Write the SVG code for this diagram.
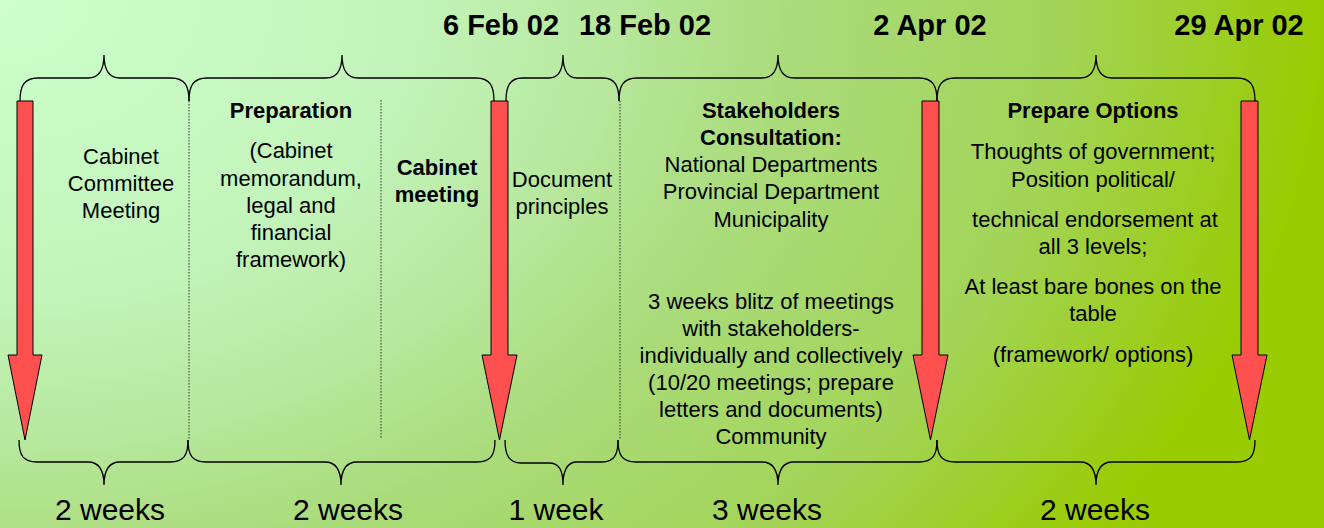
<svg xmlns="http://www.w3.org/2000/svg" width="1324" height="528" viewBox="0 0 1324 528">
<style>
text{font-family:"Liberation Sans",Arial,sans-serif;fill:#000;text-anchor:middle}
.t{font-size:22px}
.b{font-size:22px;font-weight:bold}
.d{font-size:29px;font-weight:bold}
.w{font-size:30px}
.brace{fill:none;stroke:#000;stroke-width:1.3}
.dot{stroke:#333;stroke-width:1;stroke-dasharray:1.5 1.5;fill:none}
.arrow{fill:#ff5050;stroke:#000;stroke-width:1}
</style>
<defs>
<radialGradient id="bg" gradientUnits="userSpaceOnUse" cx="0" cy="0" r="1324" fx="0" fy="0" gradientTransform="scale(1,0.72)">
<stop offset="0" stop-color="#ccffcc"/>
<stop offset="0.3" stop-color="#c3f4bb"/>
<stop offset="0.45" stop-color="#b8e9a0"/>
<stop offset="0.6" stop-color="#aadb7a"/>
<stop offset="0.8" stop-color="#a3d458"/>
<stop offset="0.95" stop-color="#9bcd16"/>
<stop offset="1" stop-color="#99cc00"/>
</radialGradient>
</defs>
<rect width="1324" height="528" fill="url(#bg)"/>

<g id="dates">
<text class="d" x="501" y="35">6 Feb 02</text>
<text class="d" x="645" y="35">18 Feb 02</text>
<text class="d" x="930" y="35">2 Apr 02</text>
<text class="d" x="1239" y="35">29 Apr 02</text>
</g>

<g id="connectors">
<!-- top braces -->
<path class="brace" d="M20,101 C20,86 24,78 38,78 L88,78 C99,78 104,70 104,55 C104,70 109,78 120,78 L171,78 C185,78 189,86 189,101"/>
<path class="brace" d="M189,101 C189,86 193,78 207,78 L326,78 C337,78 342,70 342,55 C342,70 347,78 358,78 L476,78 C490,78 494,86 494,101"/>
<path class="brace" d="M506,101 C506,86 510,78 522,78 L549,78 C559,78 563,70 563,55 C563,70 567,78 577,78 L603,78 C615,78 619,86 619,101"/>
<path class="brace" d="M619,101 C619,86 623,78 637,78 L762,78 C773,78 778,70 778,55 C778,70 783,78 794,78 L919,78 C933,78 937,86 937,101"/>
<path class="brace" d="M937,101 C937,86 941,78 955,78 L1080,78 C1091,78 1096,70 1096,55 C1096,70 1101,78 1112,78 L1237,78 C1251,78 1255,86 1255,101"/>
<!-- bottom braces -->
<path class="brace" d="M19,440 C19,455 23,462 37,462 L88,462 C99,462 104,470 104,485 C104,470 109,462 120,462 L170,462 C184,462 188,455 188,440"/>
<path class="brace" d="M188,440 C188,455 192,462 206,462 L325,462 C336,462 341,470 341,485 C341,470 346,462 357,462 L477,462 C491,462 495,455 495,440"/>
<path class="brace" d="M505,440 C505,455 509,463 521,463 L549,463 C559,463 563,470 563,485 C563,470 567,462 577,462 L602,462 C614,462 618,455 618,440"/>
<path class="brace" d="M618,440 C618,455 622,462 636,462 L762,462 C773,462 778,470 778,485 C778,470 783,462 794,462 L919,462 C933,462 937,455 937,440"/>
<path class="brace" d="M937,440 C937,455 941,462 955,462 L1080,462 C1091,462 1096,470 1096,485 C1096,470 1101,462 1112,462 L1237,462 C1251,462 1255,455 1255,440"/>
<!-- dotted separators -->
<line class="dot" x1="189" y1="101" x2="189" y2="440"/>
<line class="dot" x1="381" y1="100" x2="381" y2="438"/>
<line class="dot" x1="620" y1="101" x2="620" y2="440"/>
</g>

<g id="arrows">
<path class="arrow" d="M17,101 H33 V355 H42 L25,440 L8,355 H17 Z"/>
<path class="arrow" d="M491,101 H508 V355 H517 L499.5,440 L482,355 H491 Z"/>
<path class="arrow" d="M922,101 H939 V355 H948 L930.5,440 L913,355 H922 Z"/>
<path class="arrow" d="M1241,101 H1258 V355 H1267 L1249.5,440 L1232,355 H1241 Z"/>
</g>

<g id="node-cabinet-committee">
<text class="t" x="121" y="164">Cabinet</text>
<text class="t" x="121" y="191">Committee</text>
<text class="t" x="121" y="218">Meeting</text>
</g>

<g id="node-preparation">
<text class="b" x="291" y="118">Preparation</text>
<text class="t" x="291" y="158">(Cabinet</text>
<text class="t" x="291" y="185.5">memorandum,</text>
<text class="t" x="291" y="212.5">legal and</text>
<text class="t" x="291" y="240">financial</text>
<text class="t" x="291" y="266.5">framework)</text>
</g>

<g id="node-cabinet-meeting">
<text class="b" x="437" y="175">Cabinet</text>
<text class="b" x="437" y="202">meeting</text>
</g>

<g id="node-document">
<text class="t" x="562" y="187">Document</text>
<text class="t" x="562" y="213.5">principles</text>
</g>

<g id="node-stakeholders">
<text class="b" x="771" y="118">Stakeholders</text>
<text class="b" x="771" y="145">Consultation:</text>
<text class="t" x="771" y="172">National Departments</text>
<text class="t" x="771" y="199">Provincial Department</text>
<text class="t" x="771" y="226.5">Municipality</text>
<text class="t" x="771" y="308.5">3 weeks blitz of meetings</text>
<text class="t" x="771" y="335.5">with stakeholders-</text>
<text class="t" x="771" y="362.5">individually and collectively</text>
<text class="t" x="771" y="389.5">(10/20 meetings; prepare</text>
<text class="t" x="771" y="416.5">letters and documents)</text>
<text class="t" x="771" y="443.5">Community</text>
</g>

<g id="node-prepare-options">
<text class="b" x="1093" y="117.5">Prepare Options</text>
<text class="t" x="1093" y="158.5">Thoughts of government;</text>
<text class="t" x="1093" y="186.5">Position political/</text>
<text class="t" x="1095" y="226.5">technical endorsement at</text>
<text class="t" x="1093" y="254">all 3 levels;</text>
<text class="t" x="1093" y="294">At least bare bones on the</text>
<text class="t" x="1093" y="321">table</text>
<text class="t" x="1093" y="361.5">(framework/ options)</text>
</g>

<g id="durations">
<text class="w" x="110" y="520">2 weeks</text>
<text class="w" x="348" y="520">2 weeks</text>
<text class="w" x="556" y="520">1 week</text>
<text class="w" x="767" y="520">3 weeks</text>
<text class="w" x="1095" y="520">2 weeks</text>
</g>
</svg>
